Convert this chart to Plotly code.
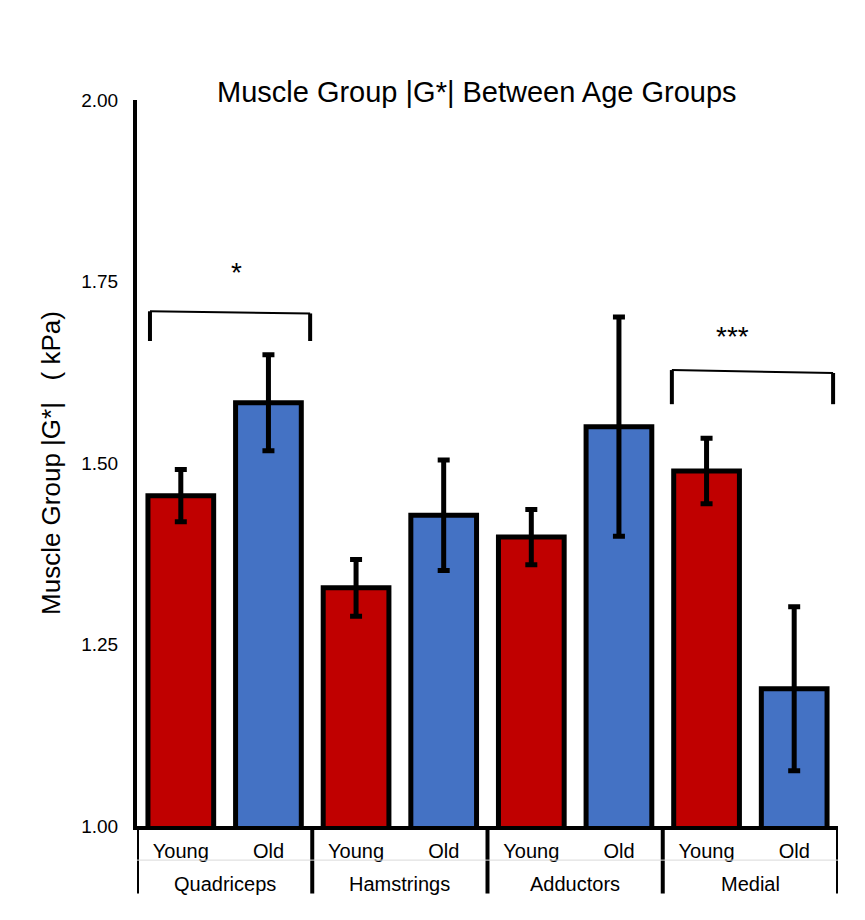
import plotly.graph_objects as go

groups = ["Quadriceps", "Hamstrings", "Adductors", "Medial"]
ages = ["Young", "Old"]
values = [1.455, 1.583, 1.328, 1.428, 1.398, 1.550, 1.489, 1.189]
errors = [0.036, 0.066, 0.039, 0.076, 0.038, 0.151, 0.045, 0.113]

cats = [f"{g} {a}" for g in groups for a in ages]
tick_text = [a for g in groups for a in ages]
colors = ["#C00000" if a == "Young" else "#4472C4" for a in tick_text]

# significance brackets: (x0, x1 in paper coords, left top y, right top y, bottom y, label, label y)
brackets = [
    (0.0185, 0.247, 1.709, 1.706, 1.668, "*", 1.762),
    (0.763, 0.993, 1.628, 1.624, 1.581, "***", 1.674),
]

fig = go.Figure(go.Bar(
    x=cats,
    y=values,
    marker=dict(color=colors, line=dict(color="black", width=5)),
    error_y=dict(type="data", array=errors, color="black", thickness=5, width=6),
    width=0.75,
))

for x0, x1, ya, yb, ybot, label, ylab in brackets:
    fig.add_shape(type="line", xref="paper", yref="y", x0=x0, x1=x1, y0=ya, y1=yb,
                  line=dict(color="black", width=2))
    fig.add_shape(type="line", xref="paper", yref="y", x0=x0, x1=x0, y0=ya, y1=ybot,
                  line=dict(color="black", width=4))
    fig.add_shape(type="line", xref="paper", yref="y", x0=x1, x1=x1, y0=yb, y1=ybot,
                  line=dict(color="black", width=4))
    fig.add_annotation(x=(x0 + x1) / 2 - 0.002, xref="paper", y=ylab, yref="y",
                       text=label, showarrow=False, font=dict(size=28, color="black"))

# group labels and dividers below the axis
for i, g in enumerate(groups):
    fig.add_annotation(x=2 * i + 0.5, xref="x", y=-0.08, yref="paper", text=g,
                       showarrow=False, yanchor="middle", font=dict(size=20, color="black"))
for i in range(len(groups) + 1):
    fig.add_shape(type="line", xref="x", yref="paper", x0=2 * i - 0.5, x1=2 * i - 0.5,
                  y0=0, y1=-0.093, line=dict(color="black", width=4))

# faint line between the two label rows
fig.add_shape(type="line", xref="paper", yref="paper", x0=0, x1=1, y0=-0.047, y1=-0.047,
              line=dict(color="#d9d9d9", width=1))

fig.update_layout(
    width=857, height=904,
    margin=dict(l=129, r=27, t=92, b=86),
    plot_bgcolor="white", paper_bgcolor="white",
    font=dict(family="Liberation Sans, Arial", color="black"),
    title=dict(text="Muscle Group |G*| Between Age Groups", x=0.547, xanchor="center",
               y=0.896, yanchor="bottom", font=dict(size=29, color="black")),
    showlegend=False,
    bargap=0.25,
)
fig.update_yaxes(range=[1, 2], dtick=0.25, tickformat=".2f", showgrid=False,
                 showline=True, linecolor="black", linewidth=4, zeroline=False,
                 tickfont=dict(size=19), ticklabelstandoff=11,
                 title=dict(text="Muscle Group |G*|   ( kPa)", font=dict(size=26), standoff=14))
fig.update_xaxes(showline=True, linecolor="black", linewidth=4, showgrid=False,
                 tickmode="array", tickvals=cats, ticktext=tick_text,
                 tickfont=dict(size=20), ticks="", ticklabelstandoff=4,
                 range=[-0.5, len(cats) - 0.5])

fig.write_html("out.html")
